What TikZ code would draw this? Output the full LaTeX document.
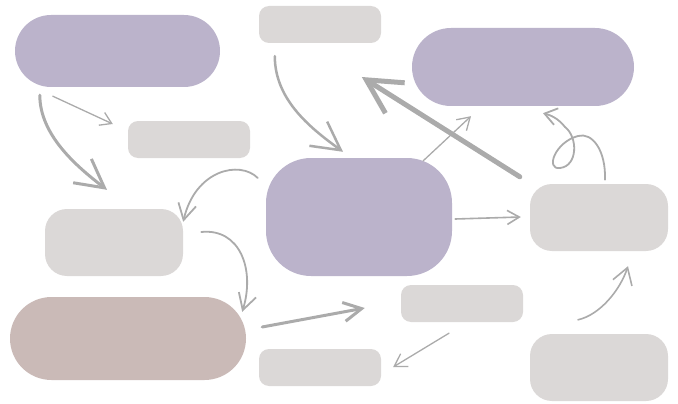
\documentclass[tikz,border=0pt]{standalone}
\usetikzlibrary{arrows.meta}
\definecolor{lav}{HTML}{BBB3CB}
\definecolor{ash}{HTML}{DBD8D7}
\definecolor{rose}{HTML}{CABAB7}
\definecolor{ink}{HTML}{ABABAB}
\begin{document}
\begin{tikzpicture}[x=1pt,y=-1pt,inner sep=0pt,
  tile/.style={rectangle,draw=none,fill=#1},
  small/.style={tile=ash,minimum width=122pt,minimum height=37pt,rounded corners=10pt},
  mid/.style={tile=ash,minimum width=138pt,minimum height=67pt,rounded corners=22pt},
  ar/.style={draw=ink,line cap=round,line join=round,line width=#1},
  ar/.default=1.3pt]
\useasboundingbox (0,0) rectangle (678,404);
\node[tile=lav,minimum width=205pt,minimum height=72pt,rounded corners=36pt] (p1) at (117.5,51) {};
\node[small] (s1) at (320,24.5) {};
\node[tile=lav,minimum width=222pt,minimum height=78pt,rounded corners=39pt] (p2) at (523,67) {};
\node[small] (s2) at (189,139.5) {};
\node[tile=lav,minimum width=186pt,minimum height=118pt,rounded corners=45pt] (c) at (359,217) {};
\node[mid] (g1) at (599,217.5) {};
\node[mid] (g2) at (114,242.5) {};
\node[tile=rose,minimum width=236pt,minimum height=83pt,rounded corners=41.5pt] (r) at (128,338.5) {};
\node[small] (s3) at (462,303.5) {};
\node[small] (s4) at (320,367.5) {};
\node[mid] (g3) at (599,367.5) {};
\draw[ar=3pt,-{Straight Barb[length=28pt,width=30pt]}] ([shift={(25,8)}]p1.south west) .. controls +(0,40) and +(-30,-23) .. ([shift={(-7,-19)}]g2.north);
\draw[ar,-{Straight Barb[length=11pt,width=14pt]}] ([shift={(38,9)}]p1.south west) -- ([shift={(-15,-15.5)}]s2.west);
\draw[ar=2.5pt,-{Straight Barb[length=28pt,width=30pt]}] ([shift={(16,13)}]s1.south west) .. controls +(0,45) and +(-30,-22) .. ([shift={(-16,-6)}]c.north);
\draw[ar=5pt,-{Straight Barb[length=34pt,width=36pt]}] ([shift={(-10,-7)}]g1.north west) -- ([shift={(-50,10)}]p2.west);
\draw[ar,-{Straight Barb[length=12pt,width=15pt]}] ([shift={(-29,3)}]c.north east) -- ([shift={(-52,10)}]p2.south);
\draw[ar=1.8pt,-{Straight Barb[length=12pt,width=17pt]}] ([shift={(6,-4)}]g1.north) .. controls (606,150) and (592,132) .. (578,136) .. controls (555,142) and (545,170) .. (560,168) .. controls (578,166) and (578,137) .. (565,127) .. controls (558,118) and (550,115) .. ([shift={(20,7)}]p2.south);
\draw[ar=1.8pt,-{Straight Barb[length=16pt,width=18pt]}] ([shift={(-8,-39)}]c.west) .. controls +(-18,-18) and +(12,-52) .. ([shift={(0,13)}]g2.north east);
\draw[ar=1.8pt,-{Straight Barb[length=16pt,width=18pt]}] ([shift={(18,-10.5)}]g2.east) .. controls +(39,-4) and +(13,-42) .. ([shift={(-4,15)}]r.north east);
\draw[ar=1.6pt,-{Straight Barb[length=12pt,width=14pt]}] ([shift={(3,2)}]c.east) -- ([shift={(-9,-0.5)}]g1.west);
\draw[ar=3pt,-{Straight Barb[length=18pt,width=19pt]}] ([shift={(16,-11.5)}]r.east) -- ([shift={(-36,4.5)}]s3.west);
\draw[ar,-{Straight Barb[length=12pt,width=15pt]}] ([shift={(-13,11)}]s3.south) -- ([shift={(12,-0.5)}]s4.east);
\draw[ar=1.6pt,-{Straight Barb[length=16pt,width=20pt]}] ([shift={(-21,-14)}]g3.north) .. controls +(22,-5) and +(-8,24) .. ([shift={(29,15)}]g1.south);
\end{tikzpicture}
\end{document}
